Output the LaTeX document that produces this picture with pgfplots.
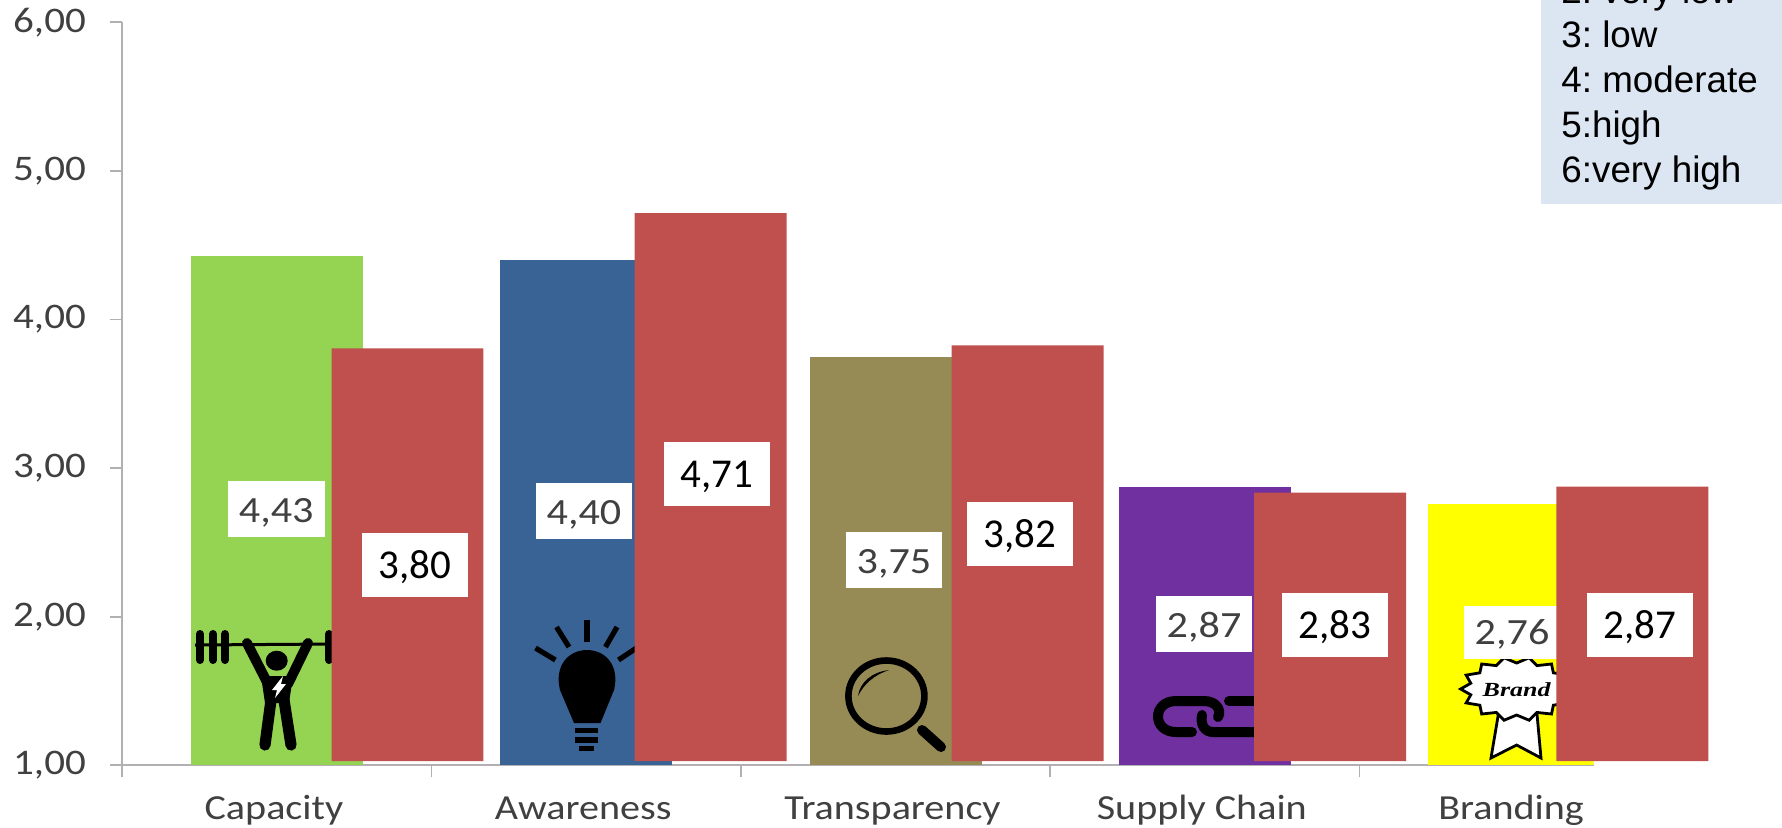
\documentclass[border=0pt]{standalone}
\usepackage{fontspec}
\usepackage{pgfplots}
\pgfplotsset{compat=1.18}
\setmainfont{Carlito}
\newfontfamily\chartfont[FakeStretch=1.14]{Carlito}
\newfontfamily\notefont{Liberation Sans}
\newfontfamily\brandfont[FakeStretch=1.3]{Liberation Serif}
\definecolor{axisgrey}{HTML}{B3B0B3}
\definecolor{labelgrey}{HTML}{404040}
\definecolor{capgreen}{HTML}{95D353}
\definecolor{awblue}{HTML}{396295}
\definecolor{tranolive}{HTML}{978B55}
\definecolor{suppurple}{HTML}{7030A0}
\definecolor{brandyellow}{HTML}{FFFF00}
\definecolor{redbar}{HTML}{C0504D}
\definecolor{notebg}{HTML}{DCE6F2}
% one drawing unit is one pixel of the 1782 x 827 canvas, y running downwards
\tikzset{px/.style={x=0.5pt,y=-0.5pt}}
\newcommand{\oldlabel}[5]{% x0 y0 x1 y1 text
  \fill[white] (#1,#2) rectangle (#3,#4);
  \node[text=labelgrey,font=\chartfont\fontsize{18.5}{20}\selectfont,inner sep=0pt,anchor=base]
    at ({(#1+#3)/2},{#4-15}) {#5};}
\newcommand{\redlabel}[5]{%
  \fill[white] (#1,#2) rectangle (#3,#4);
  \node[text=black,font=\fontsize{20.5}{24}\selectfont,inner sep=0pt,anchor=base]
    at ({(#1+#3)/2},{#4-19}) {#5};}
\begin{document}
\begin{tikzpicture}
\begin{scope}[px]
  \path[use as bounding box] (0,0) rectangle (1782,827);
\end{scope}
\clip (0,0) rectangle (891pt,-413.5pt);

% survey means
\begin{axis}[
  at={(61.15pt,-382.65pt)}, anchor=south west,
  scale only axis, width=735.65pt, height=371.5pt,
  xmin=-0.5, xmax=4.257, ymin=1, ymax=6,
  axis lines=left, axis line style={-,color=axisgrey,line width=1.1pt},
  tick align=outside, major tick length=6pt,
  tick style={color=axisgrey,line width=0.9pt},
  xtick={-0.5,0.5,1.5,2.5,3.5}, xticklabels={},
  extra x ticks={0,1,2,3,4},
  extra x tick labels={Capacity,Awareness,Transparency,Supply Chain,Branding},
  extra x tick style={major tick length=0pt,
    xticklabel style={anchor=base,yshift=-27.3pt,xshift=-1.5pt,inner sep=0pt,
      font=\chartfont\fontsize{17.6}{19}\selectfont}},
  ytick={1,2,3,4,5,6},
  yticklabel style={anchor=east,xshift=-8.7pt},
  /pgf/number format/assume math mode=true,
  /pgf/number format/.cd,fixed,fixed zerofill,precision=2,use comma,/tikz/.cd,
  tick label style={font=\chartfont\fontsize{18}{20}\selectfont,text=labelgrey},
  ybar, bar shift=0pt, bar width=0.556,
]
\addplot[fill=capgreen,draw=none] coordinates {(0,4.43)};
\addplot[fill=awblue,draw=none] coordinates {(1,4.40)};
\addplot[fill=tranolive,draw=none] coordinates {(2,3.75)};
\addplot[fill=suppurple,draw=none] coordinates {(3,2.87)};
\addplot[fill=brandyellow,draw=none] coordinates {(4,2.76)};
\end{axis}

\begin{scope}[px]
  % weightlifter
  \draw[line width=1.5pt] (195,645) -- (331,644);
  \foreach \x in {200,213,225,329}
    \draw[line width=4pt,line cap=round] (\x,634) -- (\x,660);
  \draw[line width=5pt,line cap=round] (247,643) -- (268,684);
  \draw[line width=5pt,line cap=round] (308,643) -- (288,684);
  \fill (276.7,660.7) ellipse (11 and 10);
  \fill (261,676) -- (293,676) -- (289,703) -- (265,703) -- cycle;
  \draw[line width=5.6pt,line cap=round] (271,700) -- (265,745);
  \draw[line width=5.6pt,line cap=round] (284,700) -- (291,745);
  \fill[white] (283,676) -- (272,690) -- (277,690) -- (275,698) -- (286,684) -- (281,684) -- cycle;

  % light bulb
  \fill (574,723) -- (600.5,723) -- (614,690)
    .. controls (620,665) and (605,650) .. (587,650)
    .. controls (569,650) and (554,665) .. (560,690) -- cycle;
  \fill (575,728) rectangle (598,733);
  \fill (575,737) rectangle (598,743);
  \fill (579,746) rectangle (594,751);
  \draw[line width=2.6pt] (587,620) -- (587,642);
  \draw[line width=2.6pt] (556.5,627) -- (569,647);
  \draw[line width=2.6pt] (617,627) -- (605.5,647);
  \draw[line width=2.6pt] (535.5,648) -- (555.4,660);
  \draw[line width=2.6pt] (618.5,660) -- (638,647);

  % magnifying glass
  \draw[line width=3.3pt] (886.4,696) ellipse (38 and 35.5);
  \draw[line width=5pt,line cap=round] (922,730) -- (941,747);
  \fill (858,696) .. controls (860,682) and (872,672) .. (889,670)
    .. controls (874,675) and (864,684) .. (858,696) -- cycle;

  % chain links
  \draw[line width=5pt,line cap=round] (1192,732) -- (1176,732)
    .. controls (1152,732) and (1152,701) .. (1176,701) -- (1204,701)
    .. controls (1216,701) and (1222,710) .. (1218,717);
  \draw[line width=5pt,line cap=round] (1202,715)
    .. controls (1200,725) and (1205,732) .. (1213,732) -- (1262,732);
  \draw[line width=5pt,line cap=round] (1229,701) -- (1262,701);

  % brand seal with ribbon
  \filldraw[fill=white,line width=1.4pt,line join=miter]
    (1498.7,712) -- (1536.8,712) -- (1541,758) -- (1516.6,745) -- (1491,758) -- cycle;
  \filldraw[fill=white,line width=1.4pt,line join=miter] (1572.6,689)
    \foreach \a in {12.857,25.714,...,359} {
      -- ({1516.6+(mod(round(\a/12.857),2)==1 ? 47 : 56)*cos(\a)},
          {689+(mod(round(\a/12.857),2)==1 ? 26 : 32)*sin(\a)})
    } -- cycle;
  \node[font=\brandfont\bfseries\itshape\fontsize{10}{11}\selectfont,inner sep=0pt] at (1516.6,690) {Brand};

  \oldlabel{228}{481}{324.5}{537}{4,43}
  \oldlabel{536}{483}{632}{539}{4,40}
  \oldlabel{846}{532}{942}{588}{3,75}
  \oldlabel{1156}{596}{1252}{652}{2,87}
  \oldlabel{1464}{606}{1560}{659}{2,76}
\end{scope}

% updated means, drawn over the first series
\begin{axis}[
  at={(61.15pt,-380.6pt)}, anchor=south west,
  scale only axis, width=829.85pt, height=369.85pt,
  xmin=-0.5, xmax=4.866, ymin=1.022, ymax=6,
  hide axis,
  ybar, bar shift=0pt, bar width=0.491,
]
\addplot[fill=redbar,draw=none] coordinates {
  (0.422,3.80) (1.402,4.71) (2.427,3.82) (3.405,2.83) (4.382,2.87)};
\end{axis}

\begin{scope}[px]
  \redlabel{362}{533}{468}{597}{3,80}
  \redlabel{664}{442}{770}{506}{4,71}
  \redlabel{967}{502}{1073}{566}{3,82}
  \redlabel{1282}{593}{1388}{657}{2,83}
  \redlabel{1587}{593}{1693}{657}{2,87}

  % scale key, cut by the top edge
  \fill[notebg] (1541,-5) rectangle (1782,203.7);
  \foreach \t/\b in {{2: very low}/3,{3: low}/47.7,{4: moderate}/92.7,{5:high}/137.3,{6:very high}/182}
    \node[anchor=base west,inner sep=0pt,font=\notefont\frenchspacing\fontsize{18.4}{20}\selectfont] at (1561,\b) {\t};
\end{scope}
\end{tikzpicture}
\end{document}
